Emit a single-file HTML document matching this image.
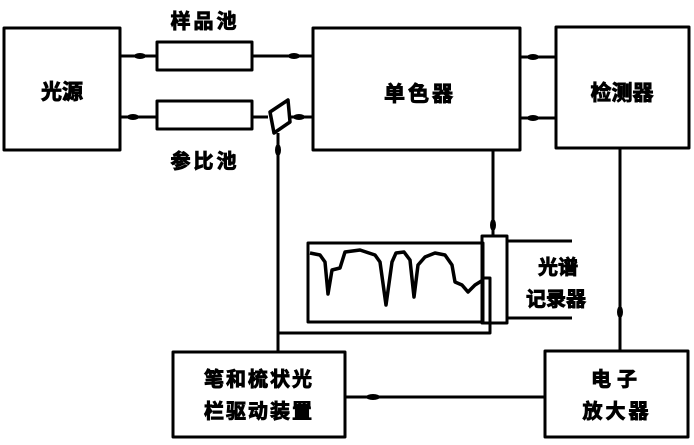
<!DOCTYPE html>
<html><head><meta charset="utf-8"><style>
body{margin:0;background:#fff;}
svg{display:block;}
text{font-family:"Liberation Sans","Noto Sans CJK SC",sans-serif;font-weight:bold;fill:#000;stroke:#000;stroke-width:0.9;}
</style></head><body>
<svg width="694" height="445" viewBox="0 0 694 445" xmlns="http://www.w3.org/2000/svg">
<g fill="none" stroke="#000" stroke-width="3" stroke-linejoin="round">
<rect x="4" y="28" width="116" height="122"/>
<rect x="157" y="42" width="95" height="28"/>
<rect x="157" y="101" width="95" height="28"/>
<rect x="313" y="28" width="207" height="122"/>
<rect x="556" y="27" width="133" height="121"/>
<line x1="120" y1="56" x2="157" y2="56"/>
<line x1="252" y1="56" x2="313" y2="56"/>
<line x1="120" y1="117" x2="157" y2="117"/>
<line x1="252" y1="117" x2="268" y2="117"/>
<line x1="290" y1="117" x2="313" y2="117"/>
<line x1="520" y1="57" x2="556" y2="57"/>
<line x1="520" y1="118" x2="556" y2="118"/>
<polygon points="270,112 288,100 290,122 274,133" stroke-width="3.5"/>
<line x1="278" y1="133" x2="278" y2="352"/>
<line x1="493" y1="150" x2="493" y2="236"/>
<rect x="308" y="243" width="175" height="79"/>
<rect x="482" y="236" width="25" height="87"/>
<polyline points="483,278 490,278 490,333 278,333"/>
<line x1="507" y1="241" x2="572" y2="241"/>
<line x1="507" y1="318" x2="572" y2="318"/>
<polyline stroke-width="3.5" points="310,253 320,255 325,262 328,294 332,270 340,268 345,252 360,250 375,255 380,262 386,305 392,262 396,253 404,252 410,260 414,297 418,265 425,257 435,253 445,255 452,265 455,282 462,285 468,292 475,285 483,280"/>
<line x1="620" y1="148" x2="620" y2="352"/>
<rect x="173" y="352" width="172" height="85"/>
<rect x="545" y="351" width="143" height="86"/>
<line x1="345" y1="397" x2="545" y2="397"/>
</g>
<g fill="#000">
<ellipse cx="140" cy="56" rx="6" ry="3"/>
<ellipse cx="294" cy="56" rx="6" ry="3"/>
<ellipse cx="133" cy="117" rx="6" ry="3"/>
<ellipse cx="299" cy="117" rx="6" ry="3"/>
<ellipse cx="533" cy="57" rx="6" ry="3"/>
<ellipse cx="533" cy="118" rx="6" ry="3"/>
<ellipse cx="278" cy="150" rx="3" ry="6"/>
<ellipse cx="493" cy="225" rx="3" ry="6"/>
<ellipse cx="620" cy="312" rx="3" ry="6"/>
<ellipse cx="373" cy="397" rx="7" ry="3"/>
</g>
<text x="62" y="99" font-size="21" text-anchor="middle">光源</text>
<text x="205" y="28" font-size="20" text-anchor="middle" letter-spacing="3">样品池</text>
<text x="205" y="168" font-size="20" text-anchor="middle" letter-spacing="3">参比池</text>
<text x="420" y="101" font-size="21" text-anchor="middle" letter-spacing="3">单色器</text>
<text x="622" y="100" font-size="21" text-anchor="middle">检测器</text>
<text x="558" y="274" font-size="20" text-anchor="middle">光谱</text>
<text x="556" y="306" font-size="20" text-anchor="middle">记录器</text>
<text x="259" y="386" font-size="20" text-anchor="middle" letter-spacing="2">笔和梳状光</text>
<text x="259" y="418" font-size="20" text-anchor="middle" letter-spacing="2">栏驱动装置</text>
<text x="617" y="386" font-size="20" text-anchor="middle" letter-spacing="6">电子</text>
<text x="617" y="418" font-size="20" text-anchor="middle" letter-spacing="3">放大器</text>
</svg>
</body></html>
